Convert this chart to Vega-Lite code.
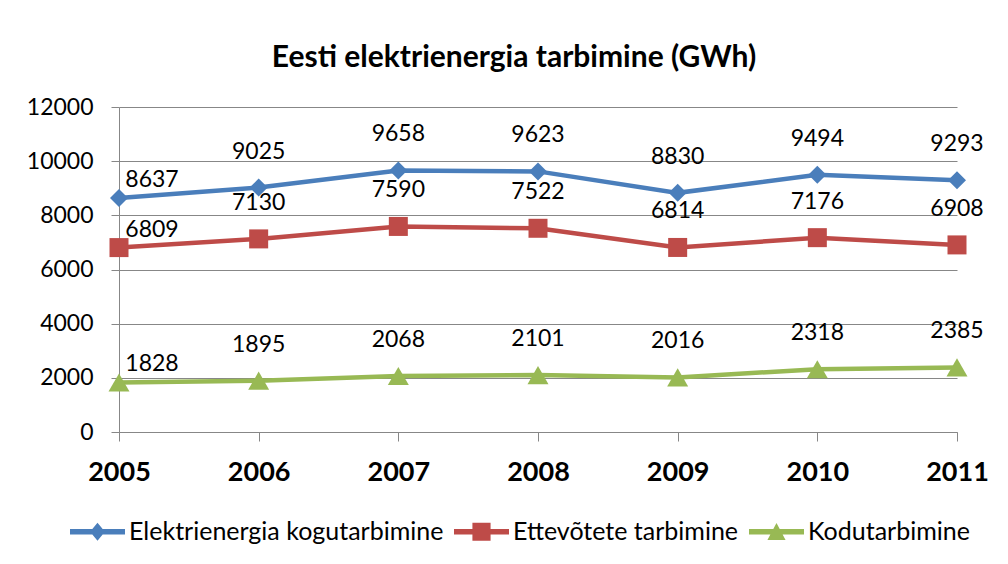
{
  "$schema": "https://vega.github.io/schema/vega-lite/v6.json",
  "width": 838,
  "height": 325,
  "autosize": "none",
  "padding": {"left": 119, "top": 107, "right": 51, "bottom": 132},
  "background": "white",
  "config": {"font": "Lato", "view": {"stroke": null}},
  "title": {
    "text": "Eesti elektrienergia tarbimine (GWh)",
    "fontSize": 30,
    "fontWeight": "bold",
    "font": "Lato",
    "color": "black",
    "anchor": "middle",
    "frame": "group",
    "dx": -24,
    "baseline": "alphabetic",
    "offset": -1
  },
  "data": {
    "values": [
      {"year": "2005", "series": "Elektrienergia kogutarbimine", "value": 8637},
      {"year": "2006", "series": "Elektrienergia kogutarbimine", "value": 9025},
      {"year": "2007", "series": "Elektrienergia kogutarbimine", "value": 9658},
      {"year": "2008", "series": "Elektrienergia kogutarbimine", "value": 9623},
      {"year": "2009", "series": "Elektrienergia kogutarbimine", "value": 8830},
      {"year": "2010", "series": "Elektrienergia kogutarbimine", "value": 9494},
      {"year": "2011", "series": "Elektrienergia kogutarbimine", "value": 9293},
      {"year": "2005", "series": "Ettevõtete tarbimine", "value": 6809},
      {"year": "2006", "series": "Ettevõtete tarbimine", "value": 7130},
      {"year": "2007", "series": "Ettevõtete tarbimine", "value": 7590},
      {"year": "2008", "series": "Ettevõtete tarbimine", "value": 7522},
      {"year": "2009", "series": "Ettevõtete tarbimine", "value": 6814},
      {"year": "2010", "series": "Ettevõtete tarbimine", "value": 7176},
      {"year": "2011", "series": "Ettevõtete tarbimine", "value": 6908},
      {"year": "2005", "series": "Kodutarbimine", "value": 1828},
      {"year": "2006", "series": "Kodutarbimine", "value": 1895},
      {"year": "2007", "series": "Kodutarbimine", "value": 2068},
      {"year": "2008", "series": "Kodutarbimine", "value": 2101},
      {"year": "2009", "series": "Kodutarbimine", "value": 2016},
      {"year": "2010", "series": "Kodutarbimine", "value": 2318},
      {"year": "2011", "series": "Kodutarbimine", "value": 2385}
    ]
  },
  "encoding": {
    "x": {
      "field": "year",
      "type": "ordinal",
      "scale": {"padding": 0},
      "axis": {
        "title": null,
        "labelAngle": 0,
        "grid": false,
        "domainColor": "#878787",
        "tickColor": "#878787",
        "tickSize": 9,
        "labelFontSize": 27,
        "labelFontWeight": "bold",
        "labelColor": "black",
        "labelPadding": 18
      }
    },
    "y": {
      "field": "value",
      "type": "quantitative",
      "scale": {"domain": [0, 12000], "nice": false},
      "axis": {
        "title": null,
        "values": [0, 2000, 4000, 6000, 8000, 10000, 12000],
        "format": "d",
        "grid": true,
        "gridColor": "#878787",
        "domainColor": "#878787",
        "tickColor": "#878787",
        "tickSize": 8,
        "labelFontSize": 23,
        "labelColor": "black",
        "labelPadding": 18
      }
    }
  },
  "layer": [
    {
      "mark": {"type": "line", "strokeWidth": 4.5},
      "encoding": {
        "color": {
          "field": "series",
          "type": "nominal",
          "scale": {
            "domain": ["Elektrienergia kogutarbimine", "Ettevõtete tarbimine", "Kodutarbimine"],
            "range": ["#4A7EBB", "#BE4B48", "#98B954"]
          },
          "legend": {
            "title": null,
            "orient": "none",
            "legendX": -49,
            "legendY": 397,
            "direction": "horizontal",
            "padding": 0,
            "symbolSize": 3025,
            "labelFontSize": 25,
            "labelColor": "black",
            "labelLimit": 500,
            "labelOffset": 4,
            "columnPadding": 10,
            "encode": {
              "symbols": {
                "update": {
                  "shape": {"signal": "datum.value == 'Elektrienergia kogutarbimine' ? 'M-1,-0.1H1V0.1H-1Z M0,-0.33L0.27,0L0,0.33L-0.27,0Z' : datum.value == 'Ettevõtete tarbimine' ? 'M-1,-0.1H1V0.1H-1Z M-0.33,-0.33H0.33V0.33H-0.33Z' : 'M-1,-0.1H1V0.1H-1Z M0,-0.32L0.33,0.3L-0.33,0.3Z'"},
                  "size": {"value": 3025},
                  "fill": {"scale": "color", "field": "value"},
                  "stroke": {"value": "transparent"},
                  "strokeWidth": {"value": 0},
                  "opacity": {"value": 1}
                }
              }
            }
          }
        }
      }
    },
    {
      "transform": [{"filter": "datum.series == 'Elektrienergia kogutarbimine'"}],
      "mark": {"type": "point", "filled": true, "opacity": 1, "shape": "diamond", "size": 324},
      "encoding": {"color": {"field": "series", "type": "nominal"}}
    },
    {
      "transform": [{"filter": "datum.series == 'Ettevõtete tarbimine'"}],
      "mark": {"type": "point", "filled": true, "opacity": 1, "shape": "square", "size": 361},
      "encoding": {"color": {"field": "series", "type": "nominal"}}
    },
    {
      "transform": [{"filter": "datum.series == 'Kodutarbimine'"}],
      "mark": {"type": "point", "filled": true, "opacity": 1, "shape": "triangle-up", "size": 440},
      "encoding": {"color": {"field": "series", "type": "nominal"}}
    },
    {
      "transform": [{"filter": "datum.year != '2005'"}],
      "mark": {"type": "text", "dy": -36, "fontSize": 23, "color": "black"},
      "encoding": {"text": {"field": "value", "type": "quantitative", "format": "d"}}
    },
    {
      "transform": [{"filter": "datum.year == '2005'"}],
      "mark": {"type": "text", "dx": 33, "dy": -18, "fontSize": 23, "color": "black"},
      "encoding": {"text": {"field": "value", "type": "quantitative", "format": "d"}}
    }
  ]
}
